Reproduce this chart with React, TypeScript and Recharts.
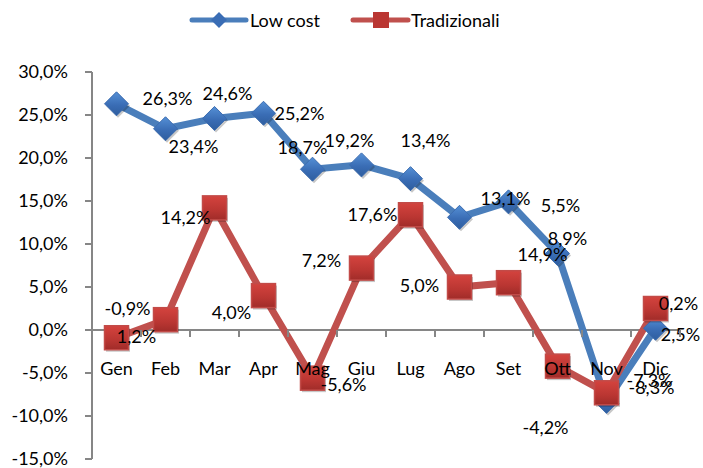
import {
  LabelList,
  Legend,
  Line,
  LineChart,
  ReferenceDot,
  ReferenceLine,
  XAxis,
  YAxis,
} from 'recharts';

const MONTHS = ['Gen', 'Feb', 'Mar', 'Apr', 'Mag', 'Giu', 'Lug', 'Ago', 'Set', 'Ott', 'Nov', 'Dic'];
const LOW_COST = [26.3, 23.4, 24.6, 25.2, 18.7, 19.2, 17.6, 13.1, 14.9, 8.9, -8.3, 0.2];
const TRADIZIONALI = [-0.9, 1.2, 14.2, 4.0, -5.6, 7.2, 13.4, 5.0, 5.5, -4.2, -7.3, 2.5];
const Y_TICKS = [-15, -10, -5, 0, 5, 10, 15, 20, 25, 30];

/** Label offsets [dx, dy] from each point – the original labels sit in odd places. */
const LOW_COST_LABEL_OFFSETS: [number, number][] = [
  [51, -6], [28, 17], [13, -25], [36, 0], [-10, -22], [-12, -25],
  [-38, 35], [46, -19], [34, 52], [10, -15], [45, -14], [23, -25],
];
const TRAD_LABEL_OFFSETS: [number, number][] = [
  [11, -30], [-29, 16], [-29, 9], [-32, 16], [31, 6], [-40, -8],
  [15, -75], [-40, -2], [52, -78], [-12, 61], [43, -13], [25, 25],
];

const WIDTH = 703;
const HEIGHT = 468;
const MARGIN = { top: 72, right: 23, bottom: 9, left: 0 };
const Y_AXIS_WIDTH = 92;
const HALF_BAND = (WIDTH - MARGIN.right - Y_AXIS_WIDTH) / MONTHS.length / 2;

const FONT = 'Lato, "Open Sans", sans-serif';
const AXIS_COLOR = '#868686';
const BLUE = '#4A7EBB';
const RED = '#C0504D';

const data = MONTHS.map((month, i) => ({
  month,
  lowCost: LOW_COST[i],
  trad: TRADIZIONALI[i],
}));

const pct = (v: number) => `${v.toFixed(1).replace('.', ',')}%`;

function Diamond(props: any) {
  const { cx, cy, index } = props;
  if (cx == null || cy == null) return <g key={`bd-${index}`} />;
  const r = 12;
  const pts = (ox: number, oy: number) =>
    `${cx + ox},${cy - r + oy} ${cx + r + ox},${cy + oy} ${cx + ox},${cy + r + oy} ${cx - r + ox},${cy + oy}`;
  return (
    <g key={`bd-${index}`}>
      <defs>
        <linearGradient id={`bgrad-${index}`} x1="0" y1="0" x2="0" y2="1">
          <stop offset="0%" stopColor="#5590D6" />
          <stop offset="55%" stopColor="#3A6DB5" />
          <stop offset="100%" stopColor="#2E5D9E" />
        </linearGradient>
      </defs>
      <polygon points={pts(1.5, 2)} fill="rgba(0,0,0,0.22)" />
      <polygon points={pts(0, 0)} fill={`url(#bgrad-${index})`} stroke="#3B6CB0" strokeWidth={1} />
    </g>
  );
}

function Square(props: any) {
  const { cx, cy, index } = props;
  if (cx == null || cy == null) return <g key={`rs-${index}`} />;
  const h = 12;
  return (
    <g key={`rs-${index}`}>
      <defs>
        <linearGradient id={`rgrad-${index}`} x1="0" y1="0" x2="0" y2="1">
          <stop offset="0%" stopColor="#D4433E" />
          <stop offset="60%" stopColor="#BA3632" />
          <stop offset="100%" stopColor="#A02C29" />
        </linearGradient>
      </defs>
      <rect x={cx - h + 1.5} y={cy - h + 2} width={2 * h} height={2 * h} fill="rgba(0,0,0,0.22)" />
      <rect
        x={cx - h}
        y={cy - h}
        width={2 * h}
        height={2 * h}
        fill={`url(#rgrad-${index})`}
        stroke="#C24B48"
        strokeWidth={1.5}
      />
    </g>
  );
}

function makeLabel(offsets: [number, number][]) {
  return (props: any) => {
    const { x, y, value, index } = props;
    if (x == null || y == null || value == null) return null;
    const [dx, dy] = offsets[index] ?? [0, -20];
    return (
      <text
        key={`lbl-${index}`}
        x={x + dx}
        y={y + dy}
        textAnchor="middle"
        dominantBaseline="central"
        fontFamily={FONT}
        fontSize={18}
        fill="#000"
      >
        {pct(Number(value))}
      </text>
    );
  };
}

function CategoryTick(props: any) {
  const { cx, cy, name, last } = props;
  if (cx == null || cy == null) return <g />;
  return (
    <g>
      <line x1={cx - HALF_BAND} x2={cx - HALF_BAND} y1={cy} y2={cy + 7} stroke={AXIS_COLOR} strokeWidth={2} />
      {last && (
        <line x1={cx + HALF_BAND} x2={cx + HALF_BAND} y1={cy} y2={cy + 7} stroke={AXIS_COLOR} strokeWidth={2} />
      )}
      <text
        x={cx}
        y={cy + 38}
        textAnchor="middle"
        dominantBaseline="central"
        fontFamily={FONT}
        fontSize={18}
        fill="#000"
      >
        {name}
      </text>
    </g>
  );
}

function LegendContent() {
  return (
    <div style={{ height: 0, position: 'relative' }}>
      <svg width={WIDTH} height={34} style={{ position: 'absolute', left: 0, top: 0, overflow: 'visible' }}>
        <line x1={192} x2={246} y1={20} y2={20} stroke={BLUE} strokeWidth={5} strokeLinecap="round" />
        <polygon points="219,12 227,20 219,28 211,20" fill="#3A6DB5" />
        <text x={250} y={20} dominantBaseline="central" fontFamily={FONT} fontSize={18} fill="#000">
          Low cost
        </text>
        <line x1={353} x2={408} y1={20} y2={20} stroke={RED} strokeWidth={5} strokeLinecap="round" />
        <rect x={373} y={12} width={16} height={16} fill="#BA3632" />
        <text x={411} y={20} dominantBaseline="central" fontFamily={FONT} fontSize={18} fill="#000">
          Tradizionali
        </text>
      </svg>
    </div>
  );
}

export default function App() {
  return (
    <div style={{ position: 'absolute', left: 0, top: 0, background: '#fff' }}>
      <LineChart width={WIDTH} height={HEIGHT} data={data} margin={MARGIN}>
        <XAxis dataKey="month" hide padding={{ left: HALF_BAND, right: HALF_BAND }} />
        <YAxis
          width={Y_AXIS_WIDTH}
          domain={[-15, 30]}
          ticks={Y_TICKS}
          interval={0}
          tickFormatter={pct}
          tickSize={7}
          tickMargin={17}
          axisLine={{ stroke: AXIS_COLOR, strokeWidth: 2 }}
          tickLine={{ stroke: AXIS_COLOR, strokeWidth: 2 }}
          tick={{ fill: '#000', fontSize: 18, fontFamily: FONT }}
        />
        <ReferenceLine y={0} stroke={AXIS_COLOR} strokeWidth={2} />
        <Legend verticalAlign="top" content={LegendContent} wrapperStyle={{ top: 0, left: 0, width: WIDTH }} />
        <Line
          dataKey="lowCost"
          name="Low cost"
          stroke={BLUE}
          strokeWidth={7}
          dot={Diamond}
          activeDot={false}
          isAnimationActive={false}
        >
          <LabelList dataKey="lowCost" content={makeLabel(LOW_COST_LABEL_OFFSETS)} />
        </Line>
        <Line
          dataKey="trad"
          name="Tradizionali"
          stroke={RED}
          strokeWidth={7}
          dot={Square}
          activeDot={false}
          isAnimationActive={false}
        >
          <LabelList dataKey="trad" content={makeLabel(TRAD_LABEL_OFFSETS)} />
        </Line>
        {MONTHS.map((m, i) => (
          <ReferenceDot
            key={m}
            x={m}
            y={0}
            r={0}
            ifOverflow="visible"
            zIndex={2000}
            shape={(p: any) => <CategoryTick {...p} name={m} last={i === MONTHS.length - 1} />}
          />
        ))}
      </LineChart>
    </div>
  );
}
